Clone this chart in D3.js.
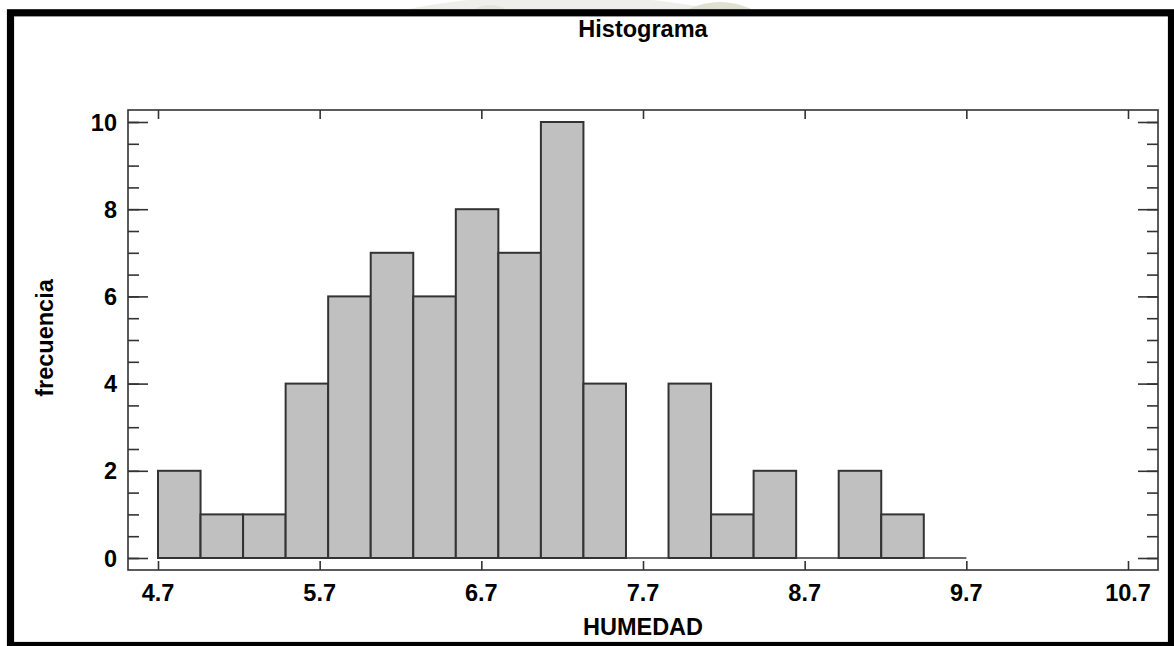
<!DOCTYPE html>
<html>
<head>
<meta charset="utf-8">
<script src="https://cdn.jsdelivr.net/npm/d3@7"></script>
<style>
  html, body { margin: 0; padding: 0; background: #fff; }
  svg { display: block; }
  text { font-family: "Liberation Sans", Arial, sans-serif; font-weight: bold; fill: #000; }
</style>
</head>
<body>
<svg id="chart" width="1174" height="646"></svg>
<script>
// Class frequencies of HUMEDAD, 19 equal classes from 4.7 to 9.7
const counts = [2, 1, 1, 4, 6, 7, 6, 8, 7, 10, 4, 0, 4, 1, 2, 0, 2, 1, 0];
const lowerLimit = 4.7;
const upperLimit = 9.7;
const xTickValues = [4.7, 5.7, 6.7, 7.7, 8.7, 9.7, 10.7];
const xTickLabels = ["4.7", "5.7", "6.7", "7.7", "8.7", "9.7", "10.7"];
const yTickValues = [0, 2, 4, 6, 8, 10];
const yMinorTicks = d3.range(0, 10.01, 0.5);

const title = "Histograma";
const xTitle = "HUMEDAD";
const yTitle = "frecuencia";

const svg = d3.select("#chart");

// faint emblem showing above the frame
const wm = svg.append("g");
wm.append("clipPath").attr("id", "topStrip")
  .append("rect").attr("x", 0).attr("y", 0).attr("width", 1174).attr("height", 10);
const wmG = wm.append("g").attr("clip-path", "url(#topStrip)");
wmG.append("ellipse").attr("cx", 560).attr("cy", 120).attr("rx", 330).attr("ry", 125)
  .attr("fill", "#eeeeea");
wmG.append("ellipse").attr("cx", 720).attr("cy", 90).attr("rx", 80).attr("ry", 88)
  .attr("fill", "#dfdfd2");
wmG.append("ellipse").attr("cx", 490).attr("cy", 60).attr("rx", 40).attr("ry", 55)
  .attr("fill", "#e4e4dc");

// Plot area
const frame = { left: 128, right: 1158, top: 110, bottom: 570 };

const x = d3.scaleLinear()
  .domain([4.7, 10.7])
  .range([158, 1128]);
const y = d3.scaleLinear()
  .domain([0, 10])
  .range([558, 122]);

const binWidth = (upperLimit - lowerLimit) / counts.length;
const bins = counts.map((c, i) => ({
  x0: lowerLimit + i * binWidth,
  x1: lowerLimit + (i + 1) * binWidth,
  count: c
}));

const axisColor = "#333";

// Frame of the plot
svg.append("rect")
  .attr("x", frame.left).attr("y", frame.top)
  .attr("width", frame.right - frame.left)
  .attr("height", frame.bottom - frame.top)
  .attr("fill", "none").attr("stroke", axisColor).attr("stroke-width", 1.6);

// Baseline under the classes
svg.append("line")
  .attr("x1", x(lowerLimit)).attr("x2", x(upperLimit))
  .attr("y1", y(0)).attr("y2", y(0))
  .attr("stroke", axisColor).attr("stroke-width", 1.6);

// Bars
svg.append("g").selectAll("rect")
  .data(bins.filter(d => d.count > 0))
  .join("rect")
  .attr("x", d => x(d.x0))
  .attr("y", d => y(d.count))
  .attr("width", d => x(d.x1) - x(d.x0))
  .attr("height", d => y(0) - y(d.count))
  .attr("fill", "#c0c0c0")
  .attr("stroke", axisColor)
  .attr("stroke-width", 2);

// X ticks: bottom (pointing up) and top (pointing down)
const xAxisBottom = d3.axisTop(x).tickValues(xTickValues).tickSize(9).tickFormat("");
const xAxisTop = d3.axisBottom(x).tickValues(xTickValues).tickSize(9).tickFormat("");
function styleAxis(g) {
  g.select(".domain").remove();
  g.selectAll(".tick line").attr("stroke", axisColor).attr("stroke-width", 1.6);
}
svg.append("g").attr("transform", `translate(0,${frame.bottom})`).call(xAxisBottom).call(styleAxis);
svg.append("g").attr("transform", `translate(0,${frame.top})`).call(xAxisTop).call(styleAxis);

// Y ticks: minor every 0.5, major every 2, on both sides pointing inward
const yMinorL = d3.axisRight(y).tickValues(yMinorTicks).tickSize(11).tickFormat("");
const yMinorR = d3.axisLeft(y).tickValues(yMinorTicks).tickSize(11).tickFormat("");
const yMajorL = d3.axisRight(y).tickValues(yTickValues).tickSize(20).tickFormat("");
const yMajorR = d3.axisLeft(y).tickValues(yTickValues).tickSize(20).tickFormat("");
svg.append("g").attr("transform", `translate(${frame.left},0)`).call(yMinorL).call(styleAxis);
svg.append("g").attr("transform", `translate(${frame.left},0)`).call(yMajorL).call(styleAxis);
svg.append("g").attr("transform", `translate(${frame.right},0)`).call(yMinorR).call(styleAxis);
svg.append("g").attr("transform", `translate(${frame.right},0)`).call(yMajorR).call(styleAxis);

// Tick labels
const fontSize = "23.5px";
svg.append("g").selectAll("text")
  .data(xTickValues)
  .join("text")
  .attr("x", d => x(d))
  .attr("y", 601)
  .attr("text-anchor", "middle")
  .style("font-size", fontSize)
  .text((d, i) => xTickLabels[i]);

svg.append("g").selectAll("text")
  .data(yTickValues)
  .join("text")
  .attr("x", 117)
  .attr("y", d => y(d) + 8.5)
  .attr("text-anchor", "end")
  .style("font-size", fontSize)
  .text(d => d);

// Titles
svg.append("text")
  .attr("x", 643).attr("y", 37)
  .attr("text-anchor", "middle")
  .style("font-size", fontSize)
  .text(title);

svg.append("text")
  .attr("x", 643).attr("y", 635)
  .attr("text-anchor", "middle")
  .style("font-size", fontSize)
  .text(xTitle);

svg.append("text")
  .attr("transform", "translate(53,338) rotate(-90)")
  .attr("text-anchor", "middle")
  .style("font-size", fontSize)
  .text(yTitle);

// Heavy outer border
svg.append("rect")
  .attr("x", 10.5).attr("y", 12.8)
  .attr("width", 1161).attr("height", 632.7)
  .attr("fill", "none").attr("stroke", "#000").attr("stroke-width", 7.2);
</script>
</body>
</html>
